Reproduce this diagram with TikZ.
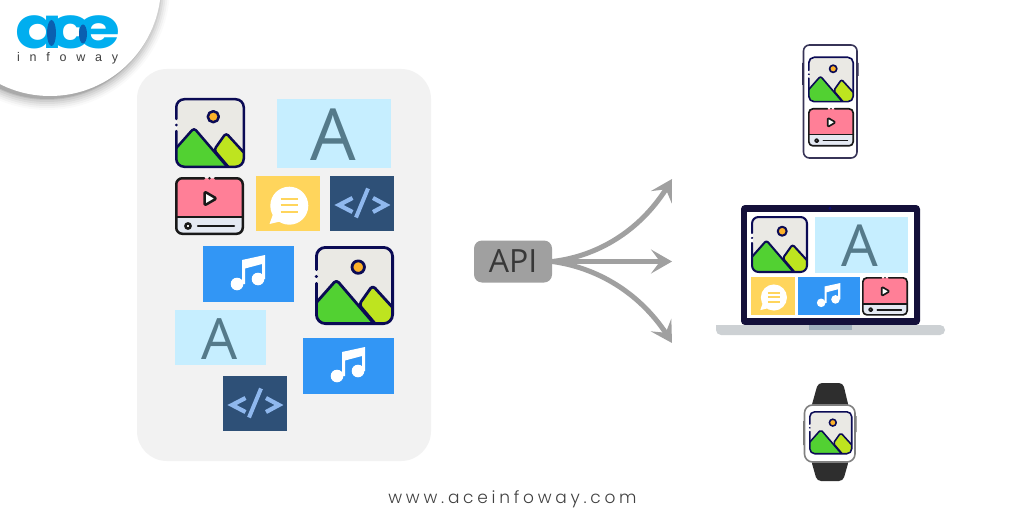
\documentclass[tikz,border=0pt]{standalone}
\usepackage{fontspec}
\setmainfont{Open Sans}
\newfontfamily\webfont[LetterSpace=22]{Poppins Light}
\newfontfamily\infofont[LetterSpace=78]{Liberation Sans}
\newfontfamily\logofont[LetterSpace=-20]{Poppins Bold}
\usetikzlibrary{arrows.meta,bending}
\definecolor{panel}{HTML}{F2F2F2}
\definecolor{navy}{HTML}{0B0B55}
\definecolor{skyA}{HTML}{C6EEFF}
\definecolor{inkA}{HTML}{557A8A}
\definecolor{musicblue}{HTML}{3296F5}
\definecolor{chaty}{HTML}{FFD55C}
\definecolor{codeb}{HTML}{2E5077}
\definecolor{codel}{HTML}{8FB8EE}
\definecolor{apig}{HTML}{A0A0A0}
\definecolor{logoc}{HTML}{00AEEF}
\definecolor{logod}{HTML}{0A5FB0}
\definecolor{devdark}{HTML}{14103A}
\definecolor{imgbg}{HTML}{EAE9E4}
\definecolor{mtsmall}{HTML}{BEE41F}
\definecolor{mtbig}{HTML}{52D132}
\definecolor{sun}{HTML}{FBB12A}
\definecolor{vidpink}{HTML}{FF7F97}
\definecolor{vidbar}{HTML}{E4E9F2}
\definecolor{notch}{HTML}{9FB0BC}
\definecolor{lapbase}{HTML}{CDD1D4}
\tikzset{
  apiarrow/.style={draw=apig,line width=5pt,-{Stealth[length=21pt,width=24pt,inset=9pt,flex=0.8]}},
}
% image icon: x y size
\newcommand\imgicon[3]{%
  \pgfmathsetmacro\s{#3/70}%
  \begin{scope}[shift={(#1,#2)},scale=\s,line width=\s*2.5pt,line join=round,line cap=round]
    \begin{scope}
      \path[clip,rounded corners=\s*8pt] (1.25,1.25) rectangle (68.75,68.75);
      \fill[fill=white] (0,0) rectangle (70,70);
      \fill[imgbg] (2,2) rectangle (68,68);
      \filldraw[draw=navy,fill=mtsmall,rounded corners=\s*3pt] (39,52) -- (51,35) -- (72,58) -- (72,72) -- (56,72) -- cycle;
      \filldraw[draw=navy,fill=mtbig,rounded corners=\s*3pt] (-4,56) -- (19,30) -- (55,72) -- (-4,72) -- cycle;
    \end{scope}
    \draw[navy,rounded corners=\s*8pt] (1.25,21) -- (1.25,1.25) -- (68.75,1.25) -- (68.75,68.75) -- (1.25,68.75) -- (1.25,33);
    \fill[navy] (1.25,27) circle (1.5);
    \filldraw[draw=navy,fill=sun] (38.3,18.7) circle (5.5);
  \end{scope}}
% video icon: x y width
\newcommand\vidicon[3]{%
  \pgfmathsetmacro\s{#3/69}%
  \begin{scope}[shift={(#1,#2)},scale=\s,line width=\s*2.5pt,line join=round,line cap=round]
    \begin{scope}
      \path[clip,rounded corners=\s*6pt] (1.25,1.25) rectangle (67.75,56.75);
      \fill[vidpink] (0,0) rectangle (69,40);
      \fill[vidbar] (0,40) rectangle (69,58);
    \end{scope}
    \draw[black!90] (1.25,40) -- (67.75,40);
    \draw[black!90,rounded corners=\s*6pt] (29,1.25) -- (1.25,1.25) -- (1.25,56.75) -- (67.75,56.75) -- (67.75,1.25) -- (40,1.25);
    \fill[black!90] (34.5,1.25) circle (1.3);
    \filldraw[draw=black!90,fill=white,rounded corners=\s*2pt] (29.5,14.5) -- (29.5,28.5) -- (41.5,21.5) -- cycle;
    \filldraw[draw=black!90,fill=white] (13,49) circle (2.6);
    \draw[black!90] (23,49) -- (59,49);
  \end{scope}}
% music: x1 y1 x2 y2 in px
\newcommand\musicbox[4]{%
  \pgfmathsetmacro\s{(#3-#1)/91}%
  \fill[musicblue] (#1,#2) rectangle (#3,#4);
  \begin{scope}[shift={({(#1+#3)/2},{(#2+#4)/2})},scale=\s]
    \fill[white] (-6.5,-14) -- (16.5,-19) -- (16.5,5) -- (13.5,5) -- (13.5,-10) -- (-3.5,-5.5) -- (-3.5,10) -- (-6.5,10) -- cycle;
    \fill[white] (-11.5,10) circle (6.3) (9.5,5) circle (6.3);
  \end{scope}}
\newcommand\chatbox[4]{%
  \pgfmathsetmacro\s{(#3-#1)/64}%
  \fill[chaty] (#1,#2) rectangle (#3,#4);
  \begin{scope}[shift={({(#1+#3)/2},{(#2+#4)/2})},scale=\s]
    \fill[white] (1.3,2.2) circle (19);
    \fill[white] (-14,8) -- (-18.5,20.5) -- (-6,17.5) -- cycle;
    \draw[chaty,line width=\s*2.2pt] (-7.3,-4.5) -- (10.3,-4.5) (-7.3,1.8) -- (10.3,1.8) (-7.3,8.5) -- (10.3,8.5);
  \end{scope}}
\newcommand\codebox[2]{%
  \fill[codeb] (#1,#2) rectangle ++(64,55);
  \begin{scope}[shift={(#1+32,#2+27.5)}]
    \draw[codel,line width=4.2pt,miter limit=8] (-9.5,-5.5) -- (-23,1.5) -- (-9.5,8.5);
    \draw[codel,line width=4pt] (6,-15) -- (-6,14);
    \draw[codel,line width=4.2pt,miter limit=8] (11,-5.5) -- (24,1.5) -- (11,8.5);
  \end{scope}}
\begin{document}
\begin{tikzpicture}[x=1pt,y=-1pt]
\useasboundingbox (0,0) rectangle (1024,524);
\fill[white] (0,0) rectangle (1024,524);
% logo disc with soft shadow
\begin{scope}
  \clip (0,0) rectangle (1024,524);
  \foreach \r/\o in {12/.02,10/.03,8/.04,6/.05,4/.06,2/.08,1/.1}{
    \fill[black,opacity=\o] (47,-13) circle ({111+\r});
  }
  \fill[white] (50,-15) circle (111);
\end{scope}
\node[font=\logofont\fontsize{58}{58}\selectfont,text=logoc,inner sep=0pt,xscale=1.2,anchor=base] (ace) at (68,48.5) {ace};
\fill[logod] (51.5,33) ellipse (4.5 and 13);
\fill[logod] (83,34) ellipse (4 and 9.5);
\node[font=\infofont\fontsize{12.5}{12.5}\selectfont,text=black!75,inner sep=0pt,anchor=base west] (infoway) at (17,62) {infoway};
% panel
\fill[panel,rounded corners=30pt] (137,69) rectangle (431,461);
% panel content
\imgicon{175}{98}{70}
\fill[skyA] (277,99) rectangle (391,168);
\node[text=inkA,font=\fontsize{72}{72}\selectfont,inner sep=0pt,anchor=base] (a1) at (333,160) {A};
\vidicon{175}{177}{69}
\chatbox{256}{176}{320}{231}
\codebox{330}{176}
\musicbox{203}{246}{294}{302}
\imgicon{315}{246}{79}
\fill[skyA] (175,310) rectangle (266,365);
\node[text=inkA,font=\fontsize{57}{57}\selectfont,inner sep=0pt,anchor=base] (a2) at (219.5,359) {A};
\musicbox{303}{338}{394}{394}
\codebox{223}{376}
% API
\node[fill=apig,rounded corners=8pt,minimum width=78pt,minimum height=42pt,inner sep=0pt,text=black!78,font=\fontsize{32}{32}\selectfont] (api) at (513,261.5) {API};
\coordinate (t1) at (672,179);
\coordinate (t2) at (672,261.5);
\coordinate (t3) at (672,343);
\draw[apiarrow] (api.east) .. controls (600,256) and (645,228) .. (t1);
\draw[apiarrow] (api.east) -- (t2);
\draw[apiarrow] (api.east) .. controls (600,268) and (645,296) .. (t3);
% phone
\fill[devdark!90] (802,63) rectangle (804,85) (856,63) rectangle (858.5,76);
\draw[devdark!85,fill=white,line width=1.6pt,rounded corners=6pt] (803.5,45) rectangle (857,158);
\imgicon{808}{56.5}{46}
\vidicon{808}{108}{46}
% laptop
\fill[devdark,rounded corners=4pt] (741,205) rectangle (920,325);
\fill[white] (747,212) rectangle (914,318);
\fill[devdark!70!blue] (830,208.3) circle (1.6);
\fill[lapbase,rounded corners=5pt] (716,325) -- (716,335) -- (945,335) -- (945,325) [sharp corners] -- cycle;
\fill[notch] (809,325) rectangle (852,330);
\imgicon{751}{216}{57}
\fill[skyA] (815,217) rectangle (908,273);
\node[text=inkA,font=\fontsize{58}{58}\selectfont,inner sep=0pt,anchor=base] (a3) at (860,266.5) {A};
\chatbox{751}{277}{795}{315}
\musicbox{798}{277}{860}{315}
\vidicon{862}{277}{46}
% watch
\fill[black!82,rounded corners=4pt] (811,408) -- (818,383) -- (843,383) -- (849,408) -- cycle;
\fill[black!82,rounded corners=4pt] (811,460) -- (817,481) -- (843,481) -- (849,460) -- cycle;
\fill[black!55] (803,421) rectangle (805,445) (855,416) rectangle (856.5,432);
\draw[black!50,fill=white,line width=1.6pt,rounded corners=8pt] (804.5,405) rectangle (855,462);
\imgicon{809}{411}{43.5}
% url
\node[font=\webfont\fontsize{17}{17}\selectfont,text=black!75,inner sep=0pt,anchor=base] (url) at (512.5,503) {www.aceinfoway.com};
\end{tikzpicture}
\end{document}
